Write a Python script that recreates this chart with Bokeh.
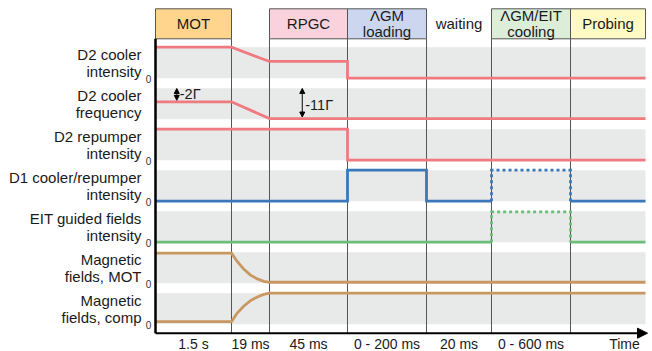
import numpy as np
from bokeh.plotting import figure
from bokeh.models import Range1d, ColumnDataSource, Arrow, NormalHead
from bokeh.core.properties import value
from bokeh.embed import file_html
from bokeh.resources import INLINE

# ---- experimental sequence --------------------------------------------------
phase_names = ["MOT", "", "RPGC", "ΛGM\nloading", "waiting", "ΛGM/EIT\ncooling", "Probing"]
phase_boxed = [True, False, True, True, False, True, True]
phase_colors = ["#FFD58E", "#FFFFFF", "#FAD2DD", "#CCD6EE", "#FFFFFF", "#DCEDD8", "#FFFAC3"]
durations = ["1.5 s", "19 ms", "45 ms", "0 - 200 ms", "20 ms", "0 - 600 ms", ""]
# schematic (not to scale) phase boundaries along the time axis
phase_edges = [0, 76, 114, 192, 271, 336, 415, 490]

channel_names = [
    "D2 cooler\nintensity",
    "D2 cooler\nfrequency",
    "D2 repumper\nintensity",
    "D1 cooler/repumper\nintensity",
    "EIT guided fields\nintensity",
    "Magnetic\nfields, MOT",
    "Magnetic\nfields, comp",
]
has_zero = [True, False, True, True, True, True, True]

# traces: time in phase-index units, level as fraction of the channel band
d2_int_t = [0, 1, 2, 3, 3, 7]
d2_int_lvl = [1.0, 1.0, 0.54, 0.54, 0.0, 0.0]
d2_freq_t = [0, 1, 2, 7]
d2_freq_lvl = [0.56, 0.56, 0.02, 0.02]
rep_t = [0, 3, 3, 7]
rep_lvl = [1.0, 1.0, 0.0, 0.0]
d1_t = [0, 3, 3, 4, 4, 5]
d1_lvl = [0.0, 0.0, 1.0, 1.0, 0.0, 0.0]
d1_opt_t = [5, 5, 6, 6]
d1_opt_lvl = [0.0, 1.0, 1.0, 0.0]
d1_end_t = [6, 7]
d1_end_lvl = [0.0, 0.0]
eit_t = [0, 5]
eit_lvl = [0.0, 0.0]
eit_opt_t = [5, 5, 6, 6]
eit_opt_lvl = [0.0, 0.98, 0.98, 0.0]
eit_end_t = [6, 7]
eit_end_lvl = [0.0, 0.0]
bmot_t = [0, 1, 1.15, 1.32, 1.5, 1.68, 1.85, 2, 7]
bmot_lvl = [0.97, 0.97, 0.70, 0.46, 0.26, 0.14, 0.06, 0.03, 0.03]
bcomp_t = [0, 1, 1.15, 1.32, 1.5, 1.68, 1.85, 2, 7]
bcomp_lvl = [0.08, 0.08, 0.36, 0.58, 0.76, 0.88, 0.96, 1.0, 1.0]

# detuning markers on the D2 cooler frequency channel
detuning_labels = ["-2Γ", "-11Γ"]
detuning_t = [0.28, 2.42]
detuning_lvl = [0.56, 0.02]
detuning_label_lvl = [0.80, 0.47]

# ---- layout -----------------------------------------------------------------
ROW_PITCH = 41.0
BAND_H = 31.0
HEAD_TOP, HEAD_BOT = 69.4, 39.4
AXIS_Y = -255.0
FONT = value("Liberation Sans")
INK = "#1a1a1a"

RED, BLUE, GREEN, TAN = "#EF7A80", "#3A78BA", "#6BBD78", "#C99862"


def tx(t):
    return np.interp(t, np.arange(len(phase_edges)), phase_edges)


def ty(row, lvl):
    return -row * ROW_PITCH + np.asarray(lvl, dtype=float) * BAND_H


p = figure(width=652, height=351, x_range=Range1d(-155, 497),
           y_range=Range1d(77.7 - 351, 77.7), output_backend="svg",
           toolbar_location=None, x_axis_location=None, y_axis_location=None,
           min_border=0, background_fill_color="white")
p.grid.visible = False
p.outline_line_color = None

# channel bands
n = len(channel_names)
rows = np.arange(n)
p.quad(left=phase_edges[0], right=phase_edges[-1], bottom=ty(rows, 0.0), top=ty(rows, 1.0),
       fill_color="#E8E9E9", line_color=None)

# phase header boxes
left = np.array(phase_edges[:-1])
right = np.array(phase_edges[1:])
boxed = np.array(phase_boxed)
p.quad(left=left[boxed], right=right[boxed], top=HEAD_TOP, bottom=HEAD_BOT,
       fill_color=list(np.array(phase_colors)[boxed]), line_color="#555555", line_width=1)
mid = (left + right) / 2
p.text(x=mid, y=(HEAD_TOP + HEAD_BOT) / 2, text=phase_names, text_font=FONT,
       text_font_size="15px", text_align="center", text_baseline="middle",
       text_line_height=0.92, text_color=INK)

# phase dividers
p.segment(x0=phase_edges[1:-1], x1=phase_edges[1:-1], y0=HEAD_BOT, y1=AXIS_Y,
          line_color="#555555", line_width=1)

# channel labels
p.text(x=-14, y=ty(rows, 0.5), text=channel_names, text_font=FONT, text_font_size="15px",
       text_align="right", text_baseline="middle", text_line_height=1.0, text_color=INK)
zr = rows[np.array(has_zero)]
p.text(x=-7, y=ty(zr, 0.0) - 1, text=["0"] * len(zr), text_font=FONT, text_font_size="10px",
       text_align="center", text_baseline="middle", text_color="#333333")

# traces
traces = [
    (0, d2_int_t, d2_int_lvl, RED, "solid"),
    (1, d2_freq_t, d2_freq_lvl, RED, "solid"),
    (2, rep_t, rep_lvl, RED, "solid"),
    (3, d1_t, d1_lvl, BLUE, "solid"),
    (3, d1_opt_t, d1_opt_lvl, BLUE, "3 3"),
    (3, d1_end_t, d1_end_lvl, BLUE, "solid"),
    (4, eit_t, eit_lvl, GREEN, "solid"),
    (4, eit_opt_t, eit_opt_lvl, GREEN, "3 3"),
    (4, eit_end_t, eit_end_lvl, GREEN, "solid"),
    (5, bmot_t, bmot_lvl, TAN, "solid"),
    (6, bcomp_t, bcomp_lvl, TAN, "solid"),
]
for row, t, lvl, color, dash in traces:
    p.line(x=tx(t), y=ty(row, lvl), line_color=color, line_width=2.8, line_dash=dash,
           line_join="miter")

# detuning arrows
det_src = ColumnDataSource(dict(x=tx(detuning_t), y0=ty(1, [0.99] * 2),
                                y1=ty(1, np.array(detuning_lvl) + 0.05)))
p.add_layout(Arrow(source=det_src, x_start="x", y_start="y0", x_end="x", y_end="y1",
                   line_width=1, line_color="black",
                   start=NormalHead(size=5, fill_color="black", line_color="black"),
                   end=NormalHead(size=5, fill_color="black", line_color="black")))
p.text(x=tx(detuning_t) + 3, y=ty(1, detuning_label_lvl), text=detuning_labels, text_font=FONT,
       text_font_size="14.5px", text_align="left", text_baseline="middle", text_color=INK)

# time axis
p.segment(x0=0, x1=0, y0=HEAD_BOT, y1=AXIS_Y, line_color="black", line_width=2.5)
p.add_layout(Arrow(x_start=0, y_start=AXIS_Y, x_end=492, y_end=AXIS_Y, line_width=2,
                   line_color="black",
                   end=NormalHead(size=10, fill_color="black", line_color="black")))
p.text(x=mid, y=AXIS_Y - 10.6, text=durations, text_font=FONT, text_font_size="14px",
       text_align="center", text_baseline="middle", text_color=INK)
p.text(x=[469], y=[AXIS_Y - 11.2], text=["Time"], text_font=FONT, text_font_size="14px",
       text_align="center", text_baseline="middle", text_color=INK)

open("out.html", "w").write(file_html(p, INLINE))
